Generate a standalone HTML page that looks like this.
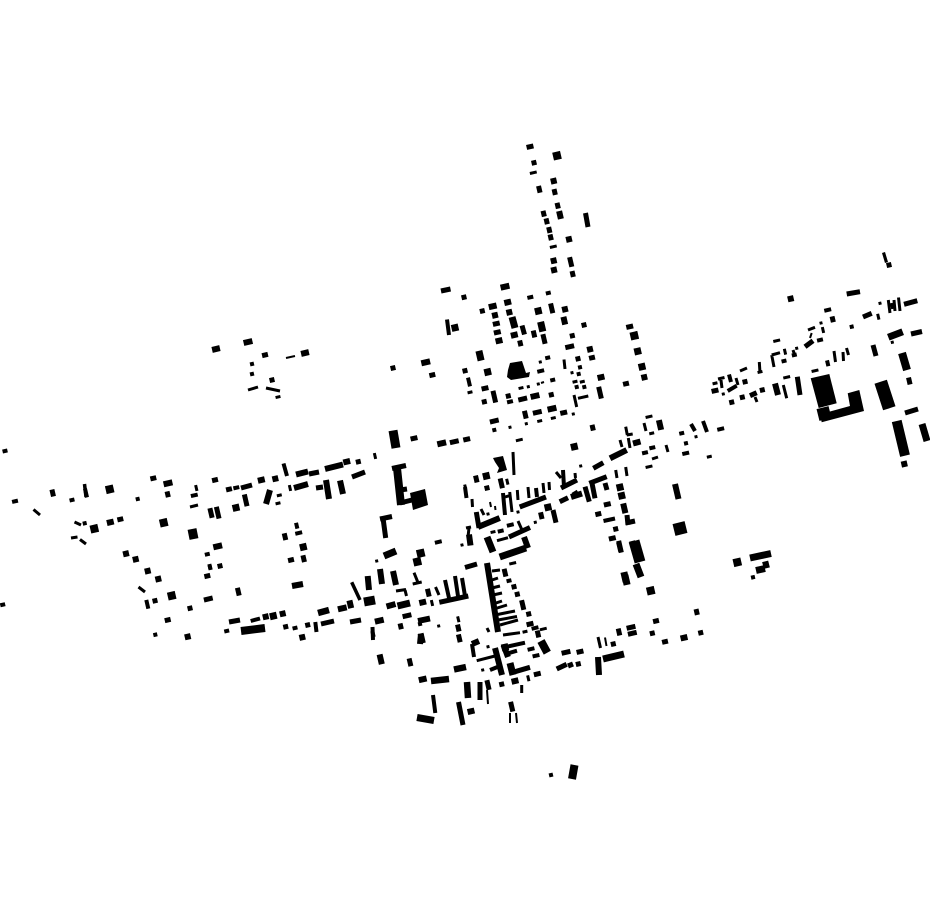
<!DOCTYPE html>
<html><head><meta charset="utf-8"><style>
html,body{margin:0;padding:0;background:#fff}
svg{display:block}
path{fill:none}
marker{overflow:visible}
</style></head><body>
<svg width="930" height="924" viewBox="0 0 930 924" xmlns="http://www.w3.org/2000/svg">
<defs>
<marker id="s3" markerUnits="userSpaceOnUse" orient="-13" overflow="visible"><rect x="-1.5" y="-1.5" width="3" height="3"/></marker>
<marker id="s4" markerUnits="userSpaceOnUse" orient="-13" overflow="visible"><rect x="-2" y="-2" width="4" height="4"/></marker>
<marker id="s5" markerUnits="userSpaceOnUse" orient="-13" overflow="visible"><rect x="-2.5" y="-2.5" width="5" height="5"/></marker>
<marker id="s6" markerUnits="userSpaceOnUse" orient="-13" overflow="visible"><rect x="-3" y="-3" width="6" height="6"/></marker>
<marker id="s7" markerUnits="userSpaceOnUse" orient="-13" overflow="visible"><rect x="-3.5" y="-3.5" width="7" height="7"/></marker>
<marker id="s8" markerUnits="userSpaceOnUse" orient="-13" overflow="visible"><rect x="-4" y="-4" width="8" height="8"/></marker>
<marker id="h53" markerUnits="userSpaceOnUse" orient="-13" overflow="visible"><rect x="-2.5" y="-1.5" width="5" height="3"/></marker>
<marker id="h54" markerUnits="userSpaceOnUse" orient="-13" overflow="visible"><rect x="-2.5" y="-2" width="5" height="4"/></marker>
<marker id="h64" markerUnits="userSpaceOnUse" orient="-13" overflow="visible"><rect x="-3" y="-2" width="6" height="4"/></marker>
<marker id="h65" markerUnits="userSpaceOnUse" orient="-13" overflow="visible"><rect x="-3" y="-2.5" width="6" height="5"/></marker>
<marker id="h73" markerUnits="userSpaceOnUse" orient="-13" overflow="visible"><rect x="-3.5" y="-1.5" width="7" height="3"/></marker>
<marker id="h74" markerUnits="userSpaceOnUse" orient="-13" overflow="visible"><rect x="-3.5" y="-2" width="7" height="4"/></marker>
<marker id="h75" markerUnits="userSpaceOnUse" orient="-13" overflow="visible"><rect x="-3.5" y="-2.5" width="7" height="5"/></marker>
<marker id="h76" markerUnits="userSpaceOnUse" orient="-13" overflow="visible"><rect x="-3.5" y="-3" width="7" height="6"/></marker>
<marker id="h86" markerUnits="userSpaceOnUse" orient="-13" overflow="visible"><rect x="-4" y="-3" width="8" height="6"/></marker>
<marker id="h95" markerUnits="userSpaceOnUse" orient="-13" overflow="visible"><rect x="-4.5" y="-2.5" width="9" height="5"/></marker>
<marker id="h96" markerUnits="userSpaceOnUse" orient="-13" overflow="visible"><rect x="-4.5" y="-3" width="9" height="6"/></marker>
<marker id="v36" markerUnits="userSpaceOnUse" orient="-13" overflow="visible"><rect x="-1.5" y="-3" width="3" height="6"/></marker>
<marker id="v46" markerUnits="userSpaceOnUse" orient="-13" overflow="visible"><rect x="-2" y="-3" width="4" height="6"/></marker>
<marker id="v49" markerUnits="userSpaceOnUse" orient="-13" overflow="visible"><rect x="-2" y="-4.5" width="4" height="9"/></marker>
<marker id="v56" markerUnits="userSpaceOnUse" orient="-13" overflow="visible"><rect x="-2.5" y="-3" width="5" height="6"/></marker>
<marker id="v57" markerUnits="userSpaceOnUse" orient="-13" overflow="visible"><rect x="-2.5" y="-3.5" width="5" height="7"/></marker>
<marker id="v58" markerUnits="userSpaceOnUse" orient="-13" overflow="visible"><rect x="-2.5" y="-4" width="5" height="8"/></marker>
<marker id="v5a" markerUnits="userSpaceOnUse" orient="-13" overflow="visible"><rect x="-2.5" y="-5" width="5" height="10"/></marker>
<marker id="v5c" markerUnits="userSpaceOnUse" orient="-13" overflow="visible"><rect x="-2.5" y="-6" width="5" height="12"/></marker>
<marker id="v68" markerUnits="userSpaceOnUse" orient="-13" overflow="visible"><rect x="-3" y="-4" width="6" height="8"/></marker>
<marker id="v6a" markerUnits="userSpaceOnUse" orient="-13" overflow="visible"><rect x="-3" y="-5" width="6" height="10"/></marker>
<marker id="v7a" markerUnits="userSpaceOnUse" orient="-13" overflow="visible"><rect x="-3.5" y="-5" width="7" height="10"/></marker>
</defs>
<path style="marker:url(#s3)" d="M573.3 414 526.3 423.7 438.7 626 376.7 561 482.7 670 892.3 342.3 880 303.3 796.7 348.3 696 436.7 540.3 362 538.3 384 528.3 386.7 580.7 466 723.3 394 821 323 510 427.3 572 372.7 465 486 518 512 488 514 535.3 522.3 462 545 488 646.7"/>
<path style="marker:url(#s4)" d="M137.7 499 84.7 523.3 155.3 634.7 210 567.3 551 775 753 577.3 686 443.3 578.7 374 580 367.3 576.7 387 584.3 387 420 624 252 364 252 374 494.3 430 851.7 326.7"/>
<path style="marker:url(#s5)" d="M464 297.3 482.3 311 584 325 572.3 335.7 465 370.7 484.3 401.7 551.3 394.7 393 368 358.3 461.7 220 566 285.7 626.7 307.7 625 487 488 615.7 529 762.3 390 742.3 397.3 731.7 402.3 745 381.7 272 380 514 586.7 517.3 594.3 528.7 614 578.3 664 501.7 684.3 613.3 644 652.3 633.3 700.7 632.7 534 162.7 190 608.3 155 600.7 578 358.7 508.3 396 889 265"/>
<path style="marker:url(#s6)" d="M126 553.7 135.7 559.3 147.7 571 158.3 579 187.7 636.7 282.7 613.7 302.3 637.3 265.7 616.7 275.3 478.7 495 315.3 509.3 312.3 565 309.3 553.7 181 569 239.3 553.7 260.7 554 270 790.7 298.7 904.3 464 644.3 377.3 590 349.3"/>
<path style="marker:url(#s7)" d="M236 507.7 455 327.7 487.7 372 574.3 446.7 637.7 351.3 620 487.3 621.7 495.7 538.3 311 303.3 547 642 366.7 505 647.3 273.3 616 486.3 476 548 507.3"/>
<path style="marker:url(#s8)" d="M109.7 489.3 650.7 590.7 163.7 522.7 94.3 528.7 634.3 335.7 420.7 553.3 417.3 561.7 171.7 595.7 557 155.7 737.3 562.3"/>
<path style="marker:url(#h53)" d="M279.3 495.3 278 503.3 575 381.7 582.3 381.7 553.3 418 709.3 456.7 525 631.7 470 392.3 278 397 521 388 539.7 421 715 383.3 760 372 493 532 651.7 433.3"/>
<path style="marker:url(#h54)" d="M5 451 2.7 604.7 72 500 207.3 554.3 295 628 548.3 293 552.7 380 681.7 433.3 547.7 357.7 509 580.7 794.3 355 226.7 631 784 361"/>
<path style="marker:url(#h64)" d="M15 501.3 236.3 487.7 530.3 297.3 645 452.7 652.3 447.7 510 401.7 820 340 500.7 531"/>
<path style="marker:url(#h65)" d="M153.3 478.3 229 489.3 215 480 207.3 576 167.7 620 291 560 592 357.7 626 383.7 665 641.7 432.3 375 656 621 265 355 120.3 519.3 598.3 514"/>
<path style="marker:url(#h73)" d="M533.3 172.7 519.3 440 649 416.7 543.3 629 815 370.7 649 466.7 553.3 246.7 786.7 377.3 776.7 340.7 512.7 563.3"/>
<path style="marker:url(#h74)" d="M194.3 495.3 540.7 371 685.7 453.3 298.7 533 535 628 827.7 310 438.3 542 720.7 429 531 649 536 655.7 510.3 525"/>
<path style="marker:url(#h75)" d="M629.7 326.7 563.7 412.7 537.3 674 530 624 580 651.7 466.7 439.3 530 146.7 497.3 332.3 496.3 323.7 414 438.3 485 388.3 715 390.7 607.3 504.3 612.3 538.3"/>
<path style="marker:url(#h76)" d="M110.3 522.3 261.3 480 346.7 461.7 507.7 302.3 601 377.3 684 637.7 422.7 602.3 515 681 471 711.3 499 340.7 514.3 335"/>
<path style="marker:url(#h86)" d="M216 349 492.7 306.3 422.7 679.3 305 353"/>
<path style="marker:url(#h95)" d="M537.3 412.3 494.3 421 522.7 399 569.7 346.7 407 615.7 566 652.3 454.3 441.7 208.3 599 631 627.3 632.3 633.3"/>
<path style="marker:url(#h96)" d="M168 483.3 441.7 443.3 505 286.7 342.3 608.3 217.7 546.3 535 396 552 408.7 379.3 620.7 425.7 362.3 248 342"/>
<path style="marker:url(#v36)" d="M196.3 488 458.3 619.3 432 603 375 456 290 488 823 330 785 351.7 878.3 316.7 892 306 528.3 678.3 507.3 481.7"/>
<path style="marker:url(#v46)" d="M296.7 525.7 210 567 373 634 827.7 363.3"/>
<path style="marker:url(#v49)" d="M147.3 604.3 469 382 86 493"/>
<path style="marker:url(#v56)" d="M167.7 494.3 554.7 192 546.7 221.3 549.3 230 550.7 237.3 557.7 205.7 572.7 274 832.7 319.3 592.7 427.7 696.7 612 400.7 626.3 543.7 213.7 520.3 343.3"/>
<path style="marker:url(#v57)" d="M52.7 493 285 536.7 539.3 189.3 534 334 619 632 476.3 479 303.7 558.7 538 634 458.3 628 909.3 381 541.3 515.7"/>
<path style="marker:url(#v58)" d="M238.3 591.7 410 662.3 459.3 638.3 428.3 592.7 525.3 414.7 505 572.7"/>
<path style="marker:url(#v5a)" d="M211 513 551.7 308.3 570.7 262 619.7 547 501.3 483.3 488 685 544 339 511.7 706.7 522.7 605"/>
<path style="marker:url(#v5c)" d="M217.7 512.7 245.7 500.3 494.3 396.7 600 392.7 620 546.7"/>
<path style="marker:url(#v68)" d="M560 215 564.3 320.7 350.3 604.3"/>
<path style="marker:url(#v6a)" d="M380.7 659.3 421.7 638.3 660 425 624.3 508.3"/>
<path style="marker:url(#v7a)" d="M626 580 480 355.7 541.7 326.7 625 577"/>

<g stroke="#000" fill="none">
<path stroke-width="2" d="M605 637.5 606.5 646M510 713 510 723M516 713 517 723M487 690 488 704M286 358 295 356M541 383 544 382M811.7 333 810 338M490 502 491 507M495 506 495.5 510"/>
<path stroke-width="3" d="M33.5 509.5 40 515M74.5 522 81 525M71 538 77.5 537M80 539.5 86 544M138.5 587 145 592M190 507 198 505M414 572.7 418.3 583.3M412.7 584 421.7 582M396 591 406 589.5M405 590 406.5 596M435.5 587 439 595M248 390 258 387M266 388 280 391M513 452 514 475M509.7 492 512 512M505 497 510 495.5M517.3 490 518 500M528 487 529 498M543 483 544 493M549 482 549.5 490M556 472 561 478M575 473 575.5 478M472 499 472.5 507M481 509 484 515M625.7 426.7 627.3 435M626.7 435 632.7 434M628.3 438 630 448M620 440 622 447M615.7 470 617 478M625.7 467 627 476M644 423 646 431M666 445 668 452M492 571 500 570M492 580 498 578M492 588 500 586M493 595 502 593M493 604 502 601M494 609 507 605M495 615 515 611M498 620 517 616.5M500 625 518 620M503 635 520 632.7M476.7 660.7 495 656M521.7 685 521.7 693M487 628 489 632M834 351 835.5 362M843 352 843.5 361M846.5 348 848.5 355M888.3 300 890 313M894 300 895 311M898.5 297.5 900 311M720.7 378 722 388M718 379 724.5 377.5M736 378 738 385M740 371 747 368M497 540.7 508 537.7M518 521 522 530M469 528 468 537M466 528 471 527M574 395 576.7 407M578 398.3 588.3 396M564 359.5 565 369M652 459 658 457M598 637 600.5 648M759.3 362 760 373M755 397 757 402M783.3 385 786.7 398.3M771.7 355 774 367M771.7 355 780 352.7M793 350 795 356M808 330 815 327.3"/>
<path stroke-width="3.5" d="M351.7 582.3 360 600M84.5 484 86 497"/>
<path stroke-width="4" d="M283.5 463.5 287 476M447 319.5 449 335M250.7 621 260 618.5M315.3 622 316.5 632M372.5 627 373 640M445 580 449 598M455 576 458 596M462 578 465 596M433 695 435.3 713M472 644 474 657M490 670 500 666M729 374.5 731 382M727.7 391 736.7 385.7M465 487 466.5 498M503 493 505 515M536 488 537 497M563 470 564 487M507 646.7 525 642.7M508 653.3 517 650.7M603.5 521 615 518.5M691 424 695 431M703 421 707 432"/>
<path stroke-width="5" d="M383 518 385.7 538M380 519 392 516.5M392 468.5 406 465.5M400 490 407 489M316 488 323 487M400 503 412 500M439.3 602.3 468.3 596M519.7 507 546 497M561 488 577 480M593.3 468.3 603.3 462.7M559.7 501.7 568 497.7M585 486.7 589.3 501.7M591.7 481.7 595 498.3M589.3 483.3 606.7 476.7M605 483 607 490M476.3 512 479 528M229 622 240 620M241 488 252 485M309 474 319 472M352 477 365 472M350 622 361 620M321 624 334 621M441 291 450.5 289M509 537 530 527.5M553 510 556 522.7M573 495 578 492M480 682 480 700M458.5 702 463 725M515 671.7 530 667.3M750 395.7 756.7 392.7M797.3 376.7 800 395M805 346.7 813 340.7M863 317 871.7 313.3M846.7 294 860 291.7M904 304.3 917.3 300.7M911 334 922 331.5M905 413 918 409M625.7 523 635 521M627 515 628 525M556.7 669 566.7 664.3M568 666 573 664M465 567.5 477 564M522 325.5 524.5 334.5M585.5 213 588 227M873 345 876 356"/>
<path stroke-width="6" d="M270 490 266 504M326 480 329 499M610 458.3 626.7 450M367.7 576 369 590M380 569 382 584M393 571 396 585M340 480.5 343 494M292 586 303 584M420 644 421 634M478 527 499.7 518M469 534.5 470.5 545.5M386.5 606.5 395.5 604M418 621 430 618.5M524 537 528 548M632 541 633 545M598 657 599 675M487 563 498 632M495 648 502 675M503.5 645 508 657M296 474.5 308 471.5M294 488 308 484M571 497 582 493.5M633 443.5 640.5 441.5M675 484 678.5 499M775 383.5 778 395M325 469 343 464.5M472 644 479 641"/>
<path stroke-width="6.5" d="M318 613 329 610M431 681 449 679M467 682 468 698M454 669.5 466 667"/>
<path stroke-width="7" d="M384 556 396 551M499.7 557 526 548M510 663 513 675M487 537 493 552M397.5 606 410 603M888.3 337.3 902.7 331.7M765 568.5 756 570.5M750 558 771 553.5M417 717.5 434 720.5M922 424 927 441M763 565.5 769 564M636 564 641 577M603 659 624 654M512 317 515 328"/>
<path stroke-width="8" d="M902 353 907 370M541 641 547.3 652.7M241 631 265 628M397 468 401 505M574.5 765 572 779"/>
<path stroke-width="9" d="M393 430.5 396 448M192 529 194 539M364 602 375 600"/>
<path stroke-width="10" d="M896.7 421 905 455.7"/>
<path stroke-width="11" d="M634 541 640 562"/>
<path stroke-width="12" d="M674 530 686 527M818 415 830 412"/>
<path stroke-width="13" d="M880.7 381.7 889.3 408.3"/>
</g>
<polygon points="810.7,378.3 829.3,374 836.7,403.3 818.7,408"/>
<polygon points="820,414.3 850,406 847.7,393.3 859.3,390 864,411 821.7,422.3"/>
<polygon points="493,458 503,456 507,470 497,473 499,468 495,462"/>
<polygon points="510,363 522,361 526,373 530,372 529,377 511,380 507,377 508,370"/>
<polygon points="410,493 425,489 428,505 413,510"/>
<polygon points="882,253 885,252 888,262 885,263"/>
</svg>
</body></html>
